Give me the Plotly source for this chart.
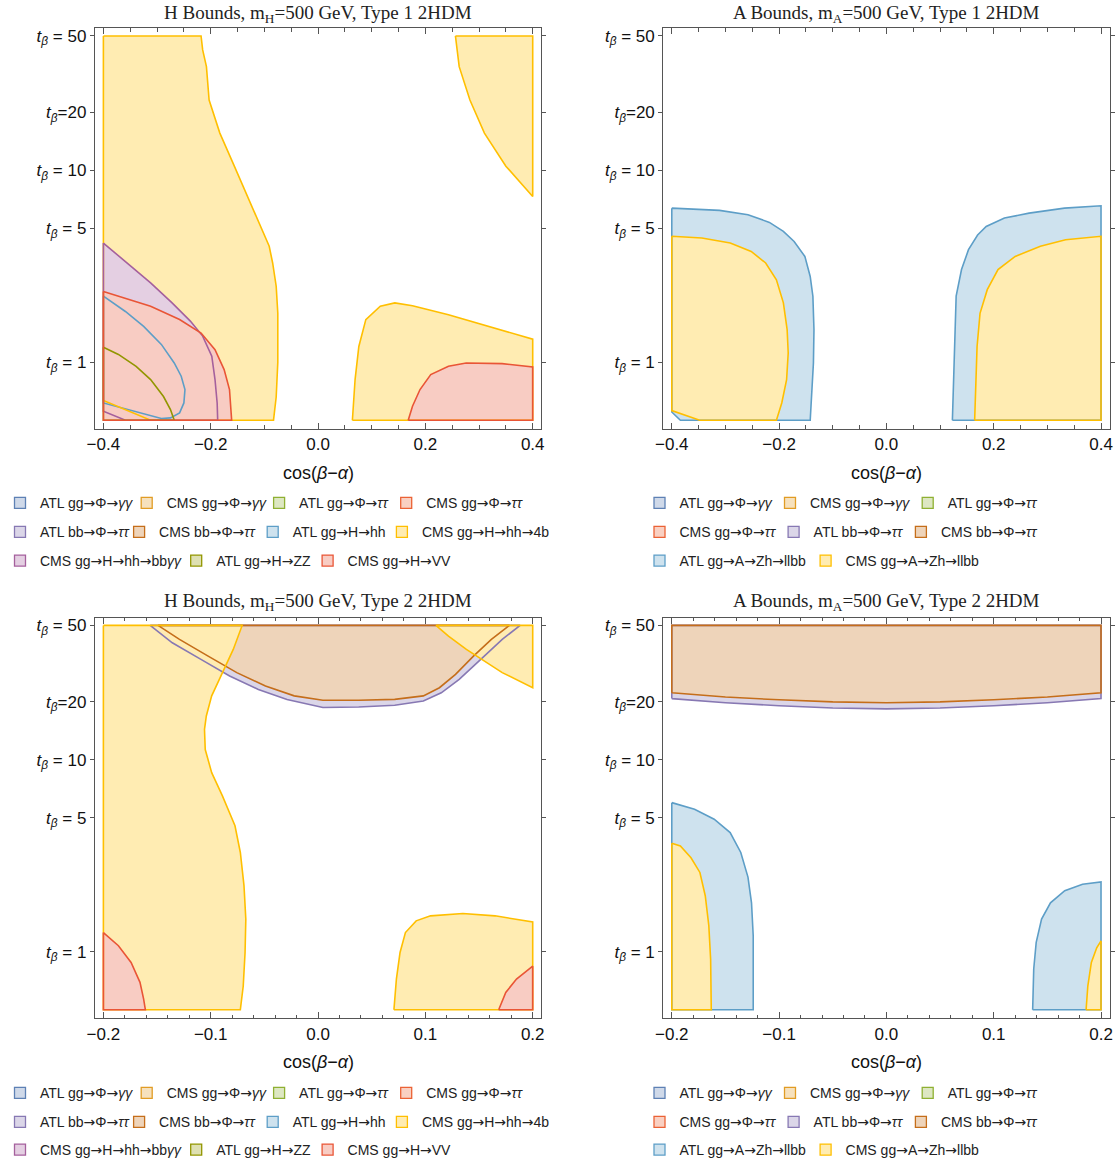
import math
import plotly.graph_objects as go

W, H = 1115, 1166

# ---------------------------------------------------------------- channels
H_CHANNELS = ["ATL gg→Φ→<i>γγ</i>", "CMS gg→Φ→<i>γγ</i>", "ATL gg→Φ→<i>ττ</i>",
              "CMS gg→Φ→<i>ττ</i>", "ATL bb→Φ→<i>ττ</i>", "CMS bb→Φ→<i>ττ</i>",
              "ATL gg→H→hh", "CMS gg→H→hh→4b", "CMS gg→H→hh→bb<i>γγ</i>",
              "ATL gg→H→ZZ", "CMS gg→H→VV"]
A_CHANNELS = ["ATL gg→Φ→<i>γγ</i>", "CMS gg→Φ→<i>γγ</i>", "ATL gg→Φ→<i>ττ</i>",
              "CMS gg→Φ→<i>ττ</i>", "ATL bb→Φ→<i>ττ</i>", "CMS bb→Φ→<i>ττ</i>",
              "ATL gg→A→Zh→llbb", "CMS gg→A→Zh→llbb"]
PALETTE = ["#5E81B5", "#E19C24", "#8FB032", "#EB6235", "#8778B3", "#C56E1A",
           "#5D9EC7", "#FFBF00", "#A5609D", "#929600", "#E95536"]

TB_TICKS = [1, 5, 10, 20, 50]
TB_TEXT = ["<i>t</i><sub><i>β</i></sub> = 1", "<i>t</i><sub><i>β</i></sub> = 5",
           "<i>t</i><sub><i>β</i></sub> = 10", "<i>t</i><sub><i>β</i></sub>=20",
           "<i>t</i><sub><i>β</i></sub> = 50"]
TB_RANGE = [0.452, 54.8]

# ------------------------------------------------- H bounds, Type 1 regions
H1_HH_X = [-0.4, -0.359, -0.325, -0.292, -0.268, -0.255, -0.248, -0.250, -0.258, -0.275, -0.292, -0.4]
H1_HH_Y = [2.21, 1.84, 1.54, 1.24, 0.993, 0.847, 0.722, 0.615, 0.546, 0.514, 0.510, 0.615]

H1_4B_LEFT_X = [-0.4, -0.218, -0.215, -0.208, -0.203, -0.183, -0.156, -0.129, -0.105, -0.091, -0.0846, -0.078, -0.075, -0.075, -0.078, -0.083, -0.312, -0.4]
H1_4B_LEFT_Y = [50, 50, 42.3, 34.6, 23.2, 15.6, 10.5, 7.02, 4.9, 4.02, 3.29, 2.49, 1.8, 1.0, 0.66, 0.5, 0.5, 0.633]
H1_4B_TOPRIGHT_X = [0.256, 0.263, 0.283, 0.310, 0.350, 0.4, 0.4]
H1_4B_TOPRIGHT_Y = [50, 34.6, 23.2, 15.6, 10.5, 7.3, 50]
H1_4B_LOWRIGHT_X = [0.064, 0.069, 0.076, 0.089, 0.116, 0.143, 0.176, 0.243, 0.4, 0.4]
H1_4B_LOWRIGHT_Y = [0.5, 0.814, 1.21, 1.67, 1.96, 2.04, 1.97, 1.77, 1.32, 0.5]

H1_BBGG_X = [-0.4, -0.359, -0.312, -0.272, -0.238, -0.215, -0.198, -0.192, -0.188, -0.187, -0.359, -0.4]
H1_BBGG_Y = [4.18, 3.36, 2.59, 2.04, 1.64, 1.37, 1.076, 0.814, 0.615, 0.5, 0.5, 0.557]

H1_ZZ_X = [-0.4, -0.372, -0.339, -0.312, -0.288, -0.275, -0.268, -0.4]
H1_ZZ_Y = [1.20, 1.10, 0.954, 0.814, 0.664, 0.568, 0.5, 0.5]

H1_VV_LEFT_X = [-0.4, -0.359, -0.312, -0.258, -0.218, -0.192, -0.175, -0.165, -0.161, -0.4]
H1_VV_LEFT_Y = [2.34, 2.16, 1.96, 1.67, 1.42, 1.165, 0.917, 0.722, 0.5, 0.5]
H1_VV_RIGHT_X = [0.168, 0.176, 0.190, 0.210, 0.243, 0.276, 0.343, 0.4, 0.4]
H1_VV_RIGHT_Y = [0.5, 0.591, 0.722, 0.864, 0.954, 0.993, 0.985, 0.947, 0.5]

# ------------------------------------------------- A bounds, Type 1 regions
A1_ZH_ATL_LEFT_X = [-0.4, -0.311, -0.258, -0.218, -0.192, -0.172, -0.152, -0.142, -0.137, -0.135, -0.136, -0.139, -0.142, -0.384, -0.4]
A1_ZH_ATL_LEFT_Y = [6.35, 6.18, 5.87, 5.35, 4.81, 4.26, 3.56, 2.80, 2.21, 1.48, 0.993, 0.664, 0.5, 0.5, 0.552]
A1_ZH_ATL_RIGHT_X = [0.123, 0.125, 0.127, 0.130, 0.140, 0.153, 0.170, 0.186, 0.220, 0.266, 0.332, 0.4, 0.4]
A1_ZH_ATL_RIGHT_Y = [0.5, 0.814, 1.48, 2.21, 3.04, 3.86, 4.6, 5.10, 5.64, 5.98, 6.35, 6.53, 0.5]

A1_ZH_CMS_LEFT_X = [-0.4, -0.344, -0.291, -0.252, -0.225, -0.205, -0.192, -0.185, -0.183, -0.186, -0.195, -0.205, -0.348, -0.4]
A1_ZH_CMS_LEFT_Y = [4.53, 4.44, 4.18, 3.78, 3.29, 2.69, 2.04, 1.48, 1.12, 0.814, 0.615, 0.5, 0.5, 0.561]
A1_ZH_CMS_RIGHT_X = [0.1645, 0.1665, 0.169, 0.1745, 0.188, 0.208, 0.240, 0.287, 0.334, 0.4, 0.4]
A1_ZH_CMS_RIGHT_Y = [0.5, 0.814, 1.21, 1.80, 2.39, 3.04, 3.56, 4.02, 4.35, 4.53, 0.5]

# ------------------------------------------------- H bounds, Type 2 regions
H2_BBTT_ATL_X = [-0.1564, -0.1358, -0.1091, -0.0824, -0.0556, -0.0289, 0.0045, 0.0379, 0.0714, 0.0981, 0.1148, 0.1315, 0.1516, 0.1716, 0.1883]
H2_BBTT_ATL_Y = [50, 40.6, 33.3, 27.3, 23.2, 20.6, 18.7, 18.8, 19.2, 20.2, 22.3, 26.2, 33.3, 42.3, 50]
H2_BBTT_CMS_X = [-0.1491, -0.1291, -0.1024, -0.0757, -0.049, -0.0222, 0.0045, 0.0379, 0.0714, 0.0981, 0.1131, 0.1281, 0.1448, 0.1615, 0.1783]
H2_BBTT_CMS_Y = [50, 42.3, 34.6, 28.4, 24.2, 21.5, 20.4, 20.4, 20.6, 21.5, 23.7, 27.8, 34.6, 42.3, 50]

H2_4B_LEFT_X = [-0.2, -0.0707, -0.079, -0.0891, -0.0991, -0.1041, -0.1058, -0.1051, -0.0991, -0.0891, -0.079, -0.0774, -0.0724, -0.069, -0.0673, -0.068, -0.0697, -0.0724, -0.2]
H2_4B_LEFT_Y = [50, 50, 37.5, 28.4, 21.5, 16.9, 14.4, 11.3, 8.57, 6.48, 4.71, 4.53, 3.29, 2.21, 1.48, 0.993, 0.664, 0.5, 0.5]
H2_4B_TOPRIGHT_X = [0.1098, 0.1215, 0.1382, 0.1549, 0.1716, 0.2, 0.2]
H2_4B_TOPRIGHT_Y = [50, 44.0, 37.5, 32.6, 28.4, 23.7, 50]
H2_4B_LOWRIGHT_X = [0.0707, 0.073, 0.0764, 0.0814, 0.0914, 0.1048, 0.1349, 0.1649, 0.2, 0.2]
H2_4B_LOWRIGHT_Y = [0.5, 0.722, 0.993, 1.26, 1.45, 1.54, 1.585, 1.54, 1.43, 0.5]

H2_VV_LEFT_X = [-0.2, -0.186, -0.1742, -0.1659, -0.1625, -0.1609, -0.2]
H2_VV_LEFT_Y = [1.26, 1.076, 0.881, 0.694, 0.568, 0.5, 0.5]
H2_VV_RIGHT_X = [0.1683, 0.1749, 0.1849, 0.195, 0.2, 0.2]
H2_VV_RIGHT_Y = [0.5, 0.615, 0.722, 0.80, 0.842, 0.5]

# ------------------------------------------------- A bounds, Type 2 regions
A2_BBTT_X = [-0.2, -0.15, -0.1, -0.05, 0.0, 0.05, 0.1, 0.15, 0.2, 0.2, -0.2]
A2_BBTT_ATL_Y = [20.8, 19.8, 19.1, 18.6, 18.4, 18.6, 19.1, 19.8, 20.8, 50, 50]
A2_BBTT_CMS_Y = [22.3, 21.2, 20.5, 20.0, 19.8, 20.0, 20.5, 21.2, 22.3, 50, 50]

A2_ZH_ATL_LEFT_X = [-0.2, -0.1788, -0.1605, -0.1456, -0.1357, -0.129, -0.1257, -0.1241, -0.1241, -0.1241, -0.2]
A2_ZH_ATL_LEFT_Y = [5.98, 5.52, 4.90, 4.18, 3.29, 2.45, 1.80, 1.21, 0.814, 0.5, 0.5]
A2_ZH_ATL_RIGHT_X = [0.1363, 0.1373, 0.1396, 0.1446, 0.1529, 0.1662, 0.1828, 0.2, 0.2]
A2_ZH_ATL_RIGHT_Y = [0.5, 0.814, 1.12, 1.48, 1.80, 2.08, 2.25, 2.31, 0.5]

A2_ZH_CMS_LEFT_X = [-0.2, -0.192, -0.1821, -0.1738, -0.1688, -0.1655, -0.1638, -0.1632, -0.2]
A2_ZH_CMS_LEFT_Y = [3.68, 3.56, 3.09, 2.59, 1.96, 1.37, 0.917, 0.5, 0.5]
A2_ZH_CMS_RIGHT_X = [0.1861, 0.1877, 0.191, 0.196, 0.2, 0.2]
A2_ZH_CMS_RIGHT_Y = [0.5, 0.664, 0.881, 1.05, 1.14, 0.5]

SANS = "Liberation Sans, Arial, sans-serif"
SERIF = "Liberation Serif, Times New Roman, serif"
FRAME = "#555555"
ARROW = '<span style="font-family:DejaVu Sans">→</span>'

# swatch centres (px) of the legend entries under each panel, row by row
LEG_LEFT_COLS = [[14.4, 149.7, 282.1, 409.2], [14.4, 142.1, 275.7, 404.9], [14.4, 199.2, 330.6]]
LEG_RIGHT_COLS = [[662.5, 793.0, 930.7], [662.5, 796.6, 923.9], [662.5, 828.6]]


def light(hex_color, a=0.3):
    h = hex_color.lstrip("#")
    r, g, b = (int(h[i:i + 2], 16) for i in (0, 2, 4))
    mix = lambda c: round(255 - a * (255 - c))
    return f"rgb({mix(r)},{mix(g)},{mix(b)})"


panels = [
    dict(title="H Bounds, m<sub>H</sub>=500 GeV, Type 1 2HDM", channels=H_CHANNELS,
         half=0.4, major=0.2, minor=0.05, xpx=(94.8, 541.3), ypx=(28.3, 429.0), top=0,
         regions=[(6, H1_HH_X, H1_HH_Y),
                  (7, H1_4B_LEFT_X, H1_4B_LEFT_Y), (7, H1_4B_TOPRIGHT_X, H1_4B_TOPRIGHT_Y),
                  (7, H1_4B_LOWRIGHT_X, H1_4B_LOWRIGHT_Y),
                  (8, H1_BBGG_X, H1_BBGG_Y), (9, H1_ZZ_X, H1_ZZ_Y),
                  (10, H1_VV_LEFT_X, H1_VV_LEFT_Y), (10, H1_VV_RIGHT_X, H1_VV_RIGHT_Y)],
         cols=LEG_LEFT_COLS, leg_y=(503.3, 532.3, 561.0)),
    dict(title="A Bounds, m<sub>A</sub>=500 GeV, Type 1 2HDM", channels=A_CHANNELS,
         half=0.4, major=0.2, minor=0.05, xpx=(663.2, 1109.6), ypx=(28.3, 429.0), top=0,
         regions=[(6, A1_ZH_ATL_LEFT_X, A1_ZH_ATL_LEFT_Y), (6, A1_ZH_ATL_RIGHT_X, A1_ZH_ATL_RIGHT_Y),
                  (7, A1_ZH_CMS_LEFT_X, A1_ZH_CMS_LEFT_Y), (7, A1_ZH_CMS_RIGHT_X, A1_ZH_CMS_RIGHT_Y)],
         cols=LEG_RIGHT_COLS, leg_y=(503.3, 532.3, 561.0)),
    dict(title="H Bounds, m<sub>H</sub>=500 GeV, Type 2 2HDM", channels=H_CHANNELS,
         half=0.2, major=0.1, minor=0.02, xpx=(94.8, 541.3), ypx=(618.3, 1019.0), top=589,
         regions=[(4, H2_BBTT_ATL_X, H2_BBTT_ATL_Y), (5, H2_BBTT_CMS_X, H2_BBTT_CMS_Y),
                  (7, H2_4B_LEFT_X, H2_4B_LEFT_Y), (7, H2_4B_TOPRIGHT_X, H2_4B_TOPRIGHT_Y),
                  (7, H2_4B_LOWRIGHT_X, H2_4B_LOWRIGHT_Y),
                  (10, H2_VV_LEFT_X, H2_VV_LEFT_Y), (10, H2_VV_RIGHT_X, H2_VV_RIGHT_Y)],
         cols=LEG_LEFT_COLS, leg_y=(1093.3, 1122.3, 1151.0)),
    dict(title="A Bounds, m<sub>A</sub>=500 GeV, Type 2 2HDM", channels=A_CHANNELS,
         half=0.2, major=0.1, minor=0.02, xpx=(663.2, 1109.6), ypx=(618.3, 1019.0), top=589,
         regions=[(4, A2_BBTT_X, A2_BBTT_ATL_Y), (5, A2_BBTT_X, A2_BBTT_CMS_Y),
                  (6, A2_ZH_ATL_LEFT_X, A2_ZH_ATL_LEFT_Y), (6, A2_ZH_ATL_RIGHT_X, A2_ZH_ATL_RIGHT_Y),
                  (7, A2_ZH_CMS_LEFT_X, A2_ZH_CMS_LEFT_Y), (7, A2_ZH_CMS_RIGHT_X, A2_ZH_CMS_RIGHT_Y)],
         cols=LEG_RIGHT_COLS, leg_y=(1093.3, 1122.3, 1151.0)),
]

fig = go.Figure()
layout = dict(width=W, height=H, margin=dict(l=0, r=0, t=0, b=0),
              paper_bgcolor="white", plot_bgcolor="white", hovermode=False,
              annotations=[])
legend_no = 0

for p_i, p in enumerate(panels, start=1):
    xa = "x" if p_i == 1 else f"x{p_i}"
    ya = "y" if p_i == 1 else f"y{p_i}"

    # region fills first (later channels cover earlier ones), boundaries on top
    for ch, xs, ys in p["regions"]:
        fig.add_trace(go.Scatter(x=xs, y=ys, xaxis=xa, yaxis=ya, mode="lines",
                                 fill="toself", fillcolor=light(PALETTE[ch]),
                                 line=dict(width=0), showlegend=False, hoverinfo="skip"))
    for ch, xs, ys in p["regions"]:
        fig.add_trace(go.Scatter(x=list(xs) + [xs[0]], y=list(ys) + [ys[0]],
                                 xaxis=xa, yaxis=ya, mode="lines",
                                 line=dict(color=PALETTE[ch], width=1.6),
                                 showlegend=False, hoverinfo="skip"))

    # legend: every channel gets its own entry box, laid out in three rows
    ch = 0
    for r_i, row in enumerate(p["cols"]):
        for cx_px in row:
            legend_no += 1
            lname = "legend" if legend_no == 1 else f"legend{legend_no}"
            fig.add_trace(go.Scatter(
                x=[None], y=[None], xaxis=xa, yaxis=ya, mode="markers",
                name=p["channels"][ch].replace("→", ARROW), legend=lname,
                marker=dict(symbol="square", size=11, color=light(PALETTE[ch]),
                            line=dict(color=PALETTE[ch], width=1.3))))
            layout[lname] = dict(orientation="h", x=max(0.0, cx_px - 23) / W, xanchor="left",
                                 y=1 - p["leg_y"][r_i] / H, yanchor="middle",
                                 bgcolor="rgba(0,0,0,0)", borderwidth=0,
                                 font=dict(family=SANS, size=14, color="#222222"),
                                 itemclick=False, itemdoubleclick=False)
            ch += 1

    dom_x = [p["xpx"][0] / W, p["xpx"][1] / W]
    dom_y = [1 - p["ypx"][1] / H, 1 - p["ypx"][0] / H]
    pad = p["half"] * 0.04
    layout["xaxis" if p_i == 1 else f"xaxis{p_i}"] = dict(
        domain=dom_x, anchor=ya, range=[-p["half"] - pad, p["half"] + pad],
        tickmode="linear", tick0=0, dtick=p["major"], tickformat=".1f",
        ticks="inside", ticklen=6, tickwidth=1, tickcolor=FRAME,
        minor=dict(tickmode="linear", tick0=0, dtick=p["minor"], ticks="inside",
                   ticklen=3.5, tickwidth=1, tickcolor=FRAME),
        showline=True, linecolor=FRAME, linewidth=1, mirror="ticks",
        showgrid=False, zeroline=False, automargin=False, fixedrange=True,
        tickfont=dict(family=SANS, size=17, color="#111111"))
    layout["yaxis" if p_i == 1 else f"yaxis{p_i}"] = dict(
        domain=dom_y, anchor=xa, type="log",
        range=[math.log10(TB_RANGE[0]), math.log10(TB_RANGE[1])],
        tickmode="array", tickvals=TB_TICKS, ticktext=TB_TEXT,
        ticks="outside", ticklen=4, tickwidth=1, tickcolor=FRAME,
        showline=True, linecolor=FRAME, linewidth=1, mirror="ticks",
        showgrid=False, zeroline=False, automargin=False, fixedrange=True,
        tickfont=dict(family=SANS, size=17, color="#111111"))

    cx = (dom_x[0] + dom_x[1]) / 2
    layout["annotations"].append(dict(
        text=p["title"], x=cx, y=1 - p["top"] / H, xref="paper", yref="paper",
        xanchor="center", yanchor="top", showarrow=False,
        font=dict(family=SERIF, size=19, color="#222222")))
    layout["annotations"].append(dict(
        text="cos(<i>β</i>−<i>α</i>)", x=cx, y=1 - (p["ypx"][1] + 44) / H,
        xref="paper", yref="paper", xanchor="center", yanchor="middle",
        showarrow=False, font=dict(family=SANS, size=18, color="#111111")))

fig.update_layout(**layout)
fig.write_html("out.html")
